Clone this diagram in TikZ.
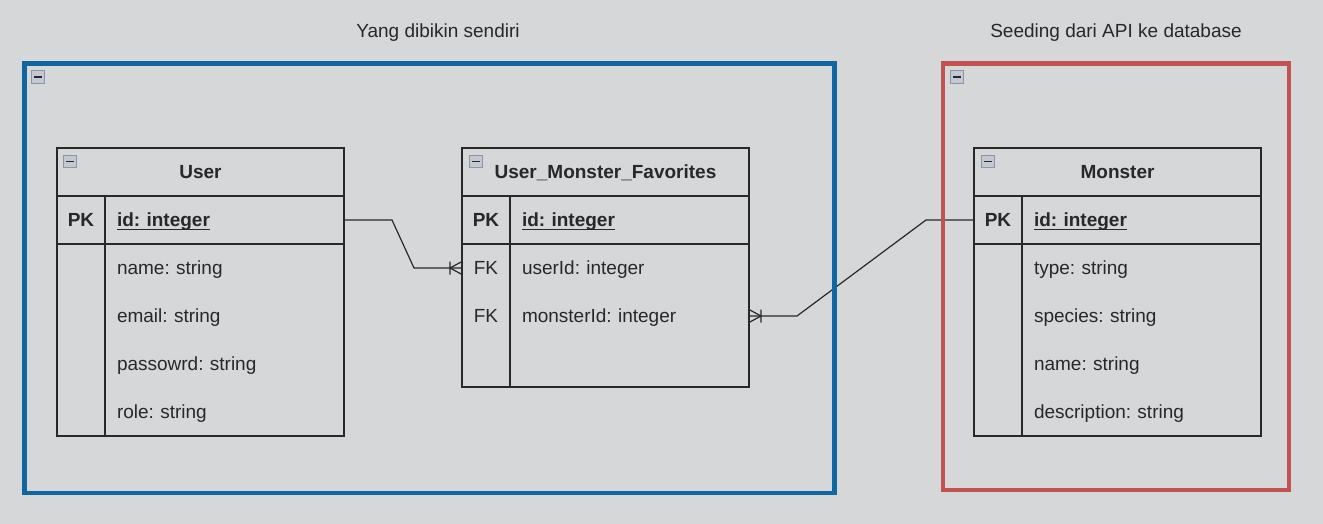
\documentclass[tikz,border=0pt]{standalone}
\usepackage{fontspec}
\setmainfont{Liberation Sans}
\usetikzlibrary{calc, positioning}
\definecolor{canvas}{RGB}{214,215,217}
\definecolor{frameblue}{RGB}{16,103,159}
\definecolor{framered}{RGB}{194,82,82}
\definecolor{ink}{RGB}{40,40,40}
\definecolor{iconfill}{RGB}{196,200,210}
\definecolor{icondraw}{RGB}{140,148,165}
\newcommand{\diagfont}{\fontsize{14.25}{17}\selectfont}
\newsavebox{\keybox}
\newcommand{\keyfield}[1]{\sbox{\keybox}{#1}\rlap{\rule[-2.6pt]{\wd\keybox}{1pt}}\usebox{\keybox}}
\frenchspacing
\tikzstyle{header} = [rectangle, minimum width=215.25pt, minimum height=36pt, inner sep=0pt, outer sep=0pt, text height=12pt, text depth=1.8pt, font=\diagfont\bfseries, text=ink]
\tikzstyle{keycell} = [rectangle, minimum width=36pt, minimum height=36pt, inner sep=0pt, outer sep=0pt, text height=12pt, text depth=1.8pt, font=\diagfont, text=ink]
\tikzstyle{field} = [rectangle, minimum height=36pt, text width=161.25pt, inner xsep=9pt, inner ysep=0pt, outer sep=0pt, text height=12pt, text depth=1.8pt, align=left, font=\diagfont, text=ink]
\tikzstyle{tableline} = [draw=ink, line width=0.9pt]
\tikzstyle{erline} = [draw=ink, line width=0.9pt]
\tikzstyle{frame} = [line width=3.2pt]
\tikzstyle{minus} = [rectangle, draw=icondraw, fill=iconfill, line width=0.8pt, minimum size=9.5pt, inner sep=0pt,
  path picture={\draw [ink, line width=1.2pt] ($(path picture bounding box.west)+(1.8pt,0)$) -- ($(path picture bounding box.east)+(-1.8pt,0)$);}]
\tikzstyle{title} = [font=\diagfont, text=ink, text height=12pt, text depth=1.8pt]

\begin{document}
\begin{tikzpicture}[x=0.75pt, y=-0.75pt]
		\fill [canvas] (0,0) rectangle (1323,524);
		\useasboundingbox (0,0) rectangle (1323,524);
		% User table
		\node (UserHead) [header] at (200.5,172) {User};
		\node (UserIdKey) [keycell, below = 0pt of UserHead.south west, anchor=north west, font=\diagfont\bfseries] {PK};
		\node (UserId) [field, right = 0pt of UserIdKey, font=\diagfont\bfseries] {\keyfield{id: integer}};
		\node (UserNameKey) [keycell, below = 0pt of UserIdKey] {};
		\node (UserName) [field, right = 0pt of UserNameKey] {name: string};
		\node (UserEmailKey) [keycell, below = 0pt of UserNameKey] {};
		\node (UserEmail) [field, right = 0pt of UserEmailKey] {email: string};
		\node (UserPassKey) [keycell, below = 0pt of UserEmailKey] {};
		\node (UserPass) [field, right = 0pt of UserPassKey] {passowrd: string};
		\node (UserRoleKey) [keycell, below = 0pt of UserPassKey] {};
		\node (UserRole) [field, right = 0pt of UserRoleKey] {role: string};
		\draw [tableline] (UserHead.north west) rectangle (UserRole.south east);
		\draw [tableline] (UserHead.south west) -- (UserHead.south east);
		\draw [tableline] (UserIdKey.south west) -- (UserId.south east);
		\draw [tableline] (UserIdKey.north east) -- (UserRoleKey.south east);
		\node (UserFold) [minus] at ($(UserHead.north west)+(13,13.5)$) {};
		% User_Monster_Favorites table
		\node (FavHead) [header] at (605.5,172) {User\_Monster\_Favorites};
		\node (FavIdKey) [keycell, below = 0pt of FavHead.south west, anchor=north west, font=\diagfont\bfseries] {PK};
		\node (FavId) [field, right = 0pt of FavIdKey, font=\diagfont\bfseries] {\keyfield{id: integer}};
		\node (FavUserKey) [keycell, below = 0pt of FavIdKey] {FK};
		\node (FavUser) [field, right = 0pt of FavUserKey] {userId: integer};
		\node (FavMonsterKey) [keycell, below = 0pt of FavUserKey] {FK};
		\node (FavMonster) [field, right = 0pt of FavMonsterKey] {monsterId: integer};
		\node (FavEmptyKey) [keycell, below = 0pt of FavMonsterKey, minimum height=35.25pt] {};
		\node (FavEmpty) [field, right = 0pt of FavEmptyKey, minimum height=35.25pt] {};
		\draw [tableline] (FavHead.north west) rectangle (FavEmpty.south east);
		\draw [tableline] (FavHead.south west) -- (FavHead.south east);
		\draw [tableline] (FavIdKey.south west) -- (FavId.south east);
		\draw [tableline] (FavIdKey.north east) -- (FavEmptyKey.south east);
		\node (FavFold) [minus] at ($(FavHead.north west)+(14,13.5)$) {};
		% Monster table
		\node (MonsterHead) [header] at (1117.5,172) {Monster};
		\node (MonsterIdKey) [keycell, below = 0pt of MonsterHead.south west, anchor=north west, font=\diagfont\bfseries] {PK};
		\node (MonsterId) [field, right = 0pt of MonsterIdKey, font=\diagfont\bfseries] {\keyfield{id: integer}};
		\node (MonsterTypeKey) [keycell, below = 0pt of MonsterIdKey] {};
		\node (MonsterType) [field, right = 0pt of MonsterTypeKey] {type: string};
		\node (MonsterSpeciesKey) [keycell, below = 0pt of MonsterTypeKey] {};
		\node (MonsterSpecies) [field, right = 0pt of MonsterSpeciesKey] {species: string};
		\node (MonsterNameKey) [keycell, below = 0pt of MonsterSpeciesKey] {};
		\node (MonsterName) [field, right = 0pt of MonsterNameKey] {name: string};
		\node (MonsterDescKey) [keycell, below = 0pt of MonsterNameKey] {};
		\node (MonsterDesc) [field, right = 0pt of MonsterDescKey] {description: string};
		\draw [tableline] (MonsterHead.north west) rectangle (MonsterDesc.south east);
		\draw [tableline] (MonsterHead.south west) -- (MonsterHead.south east);
		\draw [tableline] (MonsterIdKey.south west) -- (MonsterId.south east);
		\draw [tableline] (MonsterIdKey.north east) -- (MonsterDescKey.south east);
		\node (MonsterFold) [minus] at ($(MonsterHead.north west)+(14,13.5)$) {};
		% relations
		\draw [erline] (UserId.east) -- ++(48,0) -- ($(FavUserKey.west)+(-48,0)$) -- (FavUserKey.west);
		\draw [erline] ($(FavUserKey.west)+(-12,0)$) -- ($(FavUserKey.west)+(0,-6.5)$)
			($(FavUserKey.west)+(-12,0)$) -- ($(FavUserKey.west)+(0,6.5)$)
			($(FavUserKey.west)+(-12,-6.5)$) -- ($(FavUserKey.west)+(-12,6.5)$);
		\draw [erline] (MonsterIdKey.west) -- ++(-48,0) -- ($(FavMonster.east)+(48,0)$) -- (FavMonster.east);
		\draw [erline] ($(FavMonster.east)+(12,0)$) -- ($(FavMonster.east)+(0,-6.5)$)
			($(FavMonster.east)+(12,0)$) -- ($(FavMonster.east)+(0,6.5)$)
			($(FavMonster.east)+(12,-6.5)$) -- ($(FavMonster.east)+(12,6.5)$);
		% groups
		\draw [frame, draw=frameblue] (24.5,63.5) rectangle (834.5,493);
		\node (OwnFold) [minus] at (38,77) {};
		\node (OwnTitle) [title] at (438,31) {Yang dibikin sendiri};
		\draw [frame, draw=framered] (943,63.5) rectangle (1289,490);
		\node (SeedFold) [minus] at (957,77) {};
		\node (SeedTitle) [title] at (1116,31) {Seeding dari API ke database};
\end{tikzpicture}
\end{document}
